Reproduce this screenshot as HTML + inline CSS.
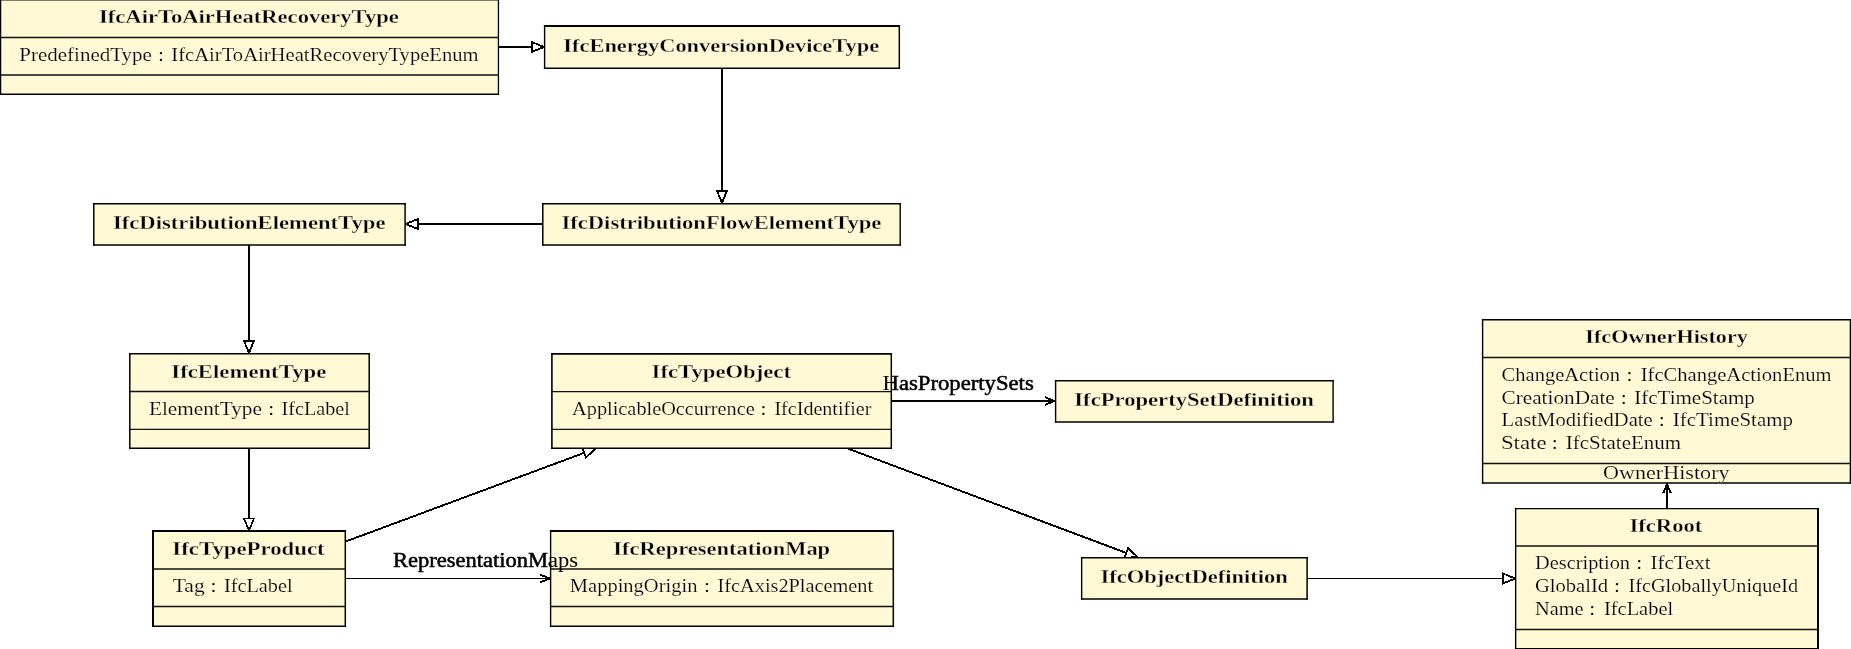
<!DOCTYPE html>
<html><head><meta charset="utf-8"><style>
html,body{margin:0;padding:0;background:#fff;width:1851px;height:649px;overflow:hidden}
svg{display:block;will-change:transform}
text{font-family:"Liberation Serif",serif;fill:#000;white-space:pre}
</style></head><body>
<svg width="1851" height="649" viewBox="0 0 1851 649">
<defs><clipPath id="boxclip">
<rect x="0.5" y="-0.25" width="497.95" height="94.55"/>
<rect x="544.6" y="26.0" width="354.70" height="42.30"/>
<rect x="542.8" y="203.7" width="357.40" height="41.30"/>
<rect x="93.8" y="203.7" width="311.30" height="41.30"/>
<rect x="129.8" y="353.7" width="239.40" height="94.60"/>
<rect x="551.9" y="353.9" width="339.40" height="94.40"/>
<rect x="1055.6" y="380.7" width="277.50" height="41.30"/>
<rect x="1482.6" y="319.8" width="367.80" height="163.10"/>
<rect x="153.0" y="531.0" width="192.30" height="95.30"/>
<rect x="550.6" y="531.0" width="342.70" height="95.30"/>
<rect x="1081.65" y="557.7" width="225.45" height="41.30"/>
<rect x="1515.65" y="508.6" width="302.35" height="140.10"/>
</clipPath></defs>
<g id="edges" shape-rendering="crispEdges">
<line x1="498.3" y1="47.0" x2="531.80" y2="47.00" stroke="#000" stroke-width="2.0"/>
<polygon points="544.00,47.00 531.80,52.00 531.80,42.00" fill="#fff" stroke="#000" stroke-width="1.8" stroke-linejoin="miter"/>
<line x1="722.0" y1="68.3" x2="722.00" y2="190.80" stroke="#000" stroke-width="2.0"/>
<polygon points="722.00,203.00 717.00,190.80 727.00,190.80" fill="#fff" stroke="#000" stroke-width="1.8" stroke-linejoin="miter"/>
<line x1="542.9" y1="224.0" x2="417.80" y2="224.00" stroke="#000" stroke-width="1.8"/>
<polygon points="405.60,224.00 417.80,219.00 417.80,229.00" fill="#fff" stroke="#000" stroke-width="1.8" stroke-linejoin="miter"/>
<line x1="249.0" y1="245.0" x2="249.00" y2="340.80" stroke="#000" stroke-width="2.0"/>
<polygon points="249.00,353.00 244.00,340.80 254.00,340.80" fill="#fff" stroke="#000" stroke-width="1.8" stroke-linejoin="miter"/>
<line x1="249.0" y1="448.3" x2="249.00" y2="518.40" stroke="#000" stroke-width="2.0"/>
<polygon points="249.00,530.60 244.00,518.40 254.00,518.40" fill="#fff" stroke="#000" stroke-width="1.8" stroke-linejoin="miter"/>
<line x1="345.2" y1="541.7" x2="584.16" y2="452.85" stroke="#000" stroke-width="1.9"/>
<polygon points="595.60,448.60 585.91,457.54 582.42,448.17" fill="#fff" stroke="#000" stroke-width="1.8" stroke-linejoin="miter"/>
<line x1="847.4" y1="448.4" x2="1126.28" y2="552.92" stroke="#000" stroke-width="1.9"/>
<polygon points="1137.70,557.20 1124.52,557.60 1128.03,548.24" fill="#fff" stroke="#000" stroke-width="1.8" stroke-linejoin="miter"/>
<line x1="1307.1" y1="578.5" x2="1503.00" y2="578.50" stroke="#000" stroke-width="1.2"/>
<polygon points="1515.20,578.50 1503.00,583.50 1503.00,573.50" fill="#fff" stroke="#000" stroke-width="1.8" stroke-linejoin="miter"/>
<line x1="891.3" y1="401.0" x2="1055.0" y2="401.0" stroke="#000" stroke-width="2.0"/>
<path d="M1045.20,404.80 C1046.80,404.23 1051.08,401.95 1055.00,401.00 M1045.20,397.20 C1046.80,397.77 1051.08,400.05 1055.00,401.00" fill="none" stroke="#000" stroke-width="1.9" stroke-linecap="butt"/>
<line x1="345.2" y1="578.5" x2="550.2" y2="578.5" stroke="#000" stroke-width="1.2"/>
<path d="M540.40,582.30 C542.00,581.73 546.28,579.45 550.20,578.50 M540.40,574.70 C542.00,575.27 546.28,577.55 550.20,578.50" fill="none" stroke="#000" stroke-width="1.9" stroke-linecap="butt"/>
<line x1="1667.0" y1="508.3" x2="1667.0" y2="483.4" stroke="#000" stroke-width="2.0"/>
<path d="M1670.80,493.20 C1670.23,491.60 1667.95,487.32 1667.00,483.40 M1663.20,493.20 C1663.77,491.60 1666.05,487.32 1667.00,483.40" fill="none" stroke="#000" stroke-width="1.9" stroke-linecap="butt"/>
</g>
<g id="labels-under">
<text x="882.61" y="390" font-size="20" font-weight="normal" textLength="151.11" lengthAdjust="spacingAndGlyphs" stroke="#000" stroke-width="0.5" stroke-linejoin="round">HasPropertySets</text>
<text x="393.00" y="567" font-size="20" font-weight="normal" textLength="185.08" lengthAdjust="spacingAndGlyphs" stroke="#000" stroke-width="0.5" stroke-linejoin="round">RepresentationMaps</text>
</g>
<g id="boxes">
<rect x="0.5" y="-0.25" width="497.95" height="94.55" fill="#fff9d5"/>
<path d="M0.5,-1.00V95.05" stroke="#000" stroke-width="1.5" fill="none"/>
<path d="M498.45,-1.00V95.05" stroke="#000" stroke-width="1.3" fill="none"/>
<path d="M-0.25,-0.25H499.10" stroke="#000" stroke-width="1.5" fill="none"/>
<path d="M-0.25,94.3H499.10" stroke="#000" stroke-width="1.5" fill="none"/>
<line x1="0.5" y1="37.5" x2="498.45" y2="37.5" stroke="#111" stroke-width="1.35"/>
<line x1="0.5" y1="75.0" x2="498.45" y2="75.0" stroke="#111" stroke-width="1.35"/>
<rect x="544.6" y="26.0" width="354.70" height="42.30" fill="#fff9d5"/>
<path d="M544.6,25.00V69.05" stroke="#000" stroke-width="1.4" fill="none"/>
<path d="M899.3,25.00V69.05" stroke="#000" stroke-width="1.5" fill="none"/>
<path d="M543.90,26.0H900.05" stroke="#000" stroke-width="2.0" fill="none"/>
<path d="M543.90,68.3H900.05" stroke="#000" stroke-width="1.5" fill="none"/>
<rect x="542.8" y="203.7" width="357.40" height="41.30" fill="#fff9d5"/>
<path d="M542.8,202.95V245.80" stroke="#000" stroke-width="1.5" fill="none"/>
<path d="M900.2,202.95V245.80" stroke="#000" stroke-width="1.4" fill="none"/>
<path d="M542.05,203.7H900.90" stroke="#000" stroke-width="1.5" fill="none"/>
<path d="M542.05,245.0H900.90" stroke="#000" stroke-width="1.6" fill="none"/>
<rect x="93.8" y="203.7" width="311.30" height="41.30" fill="#fff9d5"/>
<path d="M93.8,202.95V245.80" stroke="#000" stroke-width="1.5" fill="none"/>
<path d="M405.1,202.95V245.80" stroke="#000" stroke-width="1.5" fill="none"/>
<path d="M93.05,203.7H405.85" stroke="#000" stroke-width="1.5" fill="none"/>
<path d="M93.05,245.0H405.85" stroke="#000" stroke-width="1.6" fill="none"/>
<rect x="129.8" y="353.7" width="239.40" height="94.60" fill="#fff9d5"/>
<path d="M129.8,352.95V449.00" stroke="#000" stroke-width="1.5" fill="none"/>
<path d="M369.2,352.95V449.00" stroke="#000" stroke-width="1.5" fill="none"/>
<path d="M129.05,353.7H369.95" stroke="#000" stroke-width="1.5" fill="none"/>
<path d="M129.05,448.3H369.95" stroke="#000" stroke-width="1.4" fill="none"/>
<line x1="129.8" y1="391.5" x2="369.2" y2="391.5" stroke="#111" stroke-width="1.35"/>
<line x1="129.8" y1="429.3" x2="369.2" y2="429.3" stroke="#111" stroke-width="1.35"/>
<rect x="551.9" y="353.9" width="339.40" height="94.40" fill="#fff9d5"/>
<path d="M551.9,353.10V449.00" stroke="#000" stroke-width="1.6" fill="none"/>
<path d="M891.3,353.10V449.00" stroke="#000" stroke-width="1.5" fill="none"/>
<path d="M551.10,353.9H892.05" stroke="#000" stroke-width="1.6" fill="none"/>
<path d="M551.10,448.3H892.05" stroke="#000" stroke-width="1.4" fill="none"/>
<line x1="551.9" y1="391.6" x2="891.3" y2="391.6" stroke="#111" stroke-width="1.35"/>
<line x1="551.9" y1="429.3" x2="891.3" y2="429.3" stroke="#111" stroke-width="1.35"/>
<rect x="1055.6" y="380.7" width="277.50" height="41.30" fill="#fff9d5"/>
<path d="M1055.6,379.95V422.75" stroke="#000" stroke-width="1.4" fill="none"/>
<path d="M1333.1,379.95V422.75" stroke="#000" stroke-width="1.4" fill="none"/>
<path d="M1054.90,380.7H1333.80" stroke="#000" stroke-width="1.5" fill="none"/>
<path d="M1054.90,422.0H1333.80" stroke="#000" stroke-width="1.5" fill="none"/>
<rect x="1482.6" y="319.8" width="367.80" height="163.10" fill="#fff9d5"/>
<path d="M1482.6,319.10V483.65" stroke="#000" stroke-width="1.4" fill="none"/>
<path d="M1850.4,319.10V483.65" stroke="#000" stroke-width="1.4" fill="none"/>
<path d="M1481.90,319.8H1851.10" stroke="#000" stroke-width="1.4" fill="none"/>
<path d="M1481.90,482.9H1851.10" stroke="#000" stroke-width="1.5" fill="none"/>
<line x1="1482.6" y1="357.5" x2="1850.4" y2="357.5" stroke="#111" stroke-width="1.35"/>
<line x1="1482.6" y1="463.5" x2="1850.4" y2="463.5" stroke="#111" stroke-width="1.35"/>
<rect x="153.0" y="531.0" width="192.30" height="95.30" fill="#fff9d5"/>
<path d="M153.0,530.00V627.05" stroke="#000" stroke-width="2.0" fill="none"/>
<path d="M345.3,530.00V627.05" stroke="#000" stroke-width="1.5" fill="none"/>
<path d="M152.00,531.0H346.05" stroke="#000" stroke-width="2.0" fill="none"/>
<path d="M152.00,626.3H346.05" stroke="#000" stroke-width="1.5" fill="none"/>
<line x1="153.0" y1="569.0" x2="345.3" y2="569.0" stroke="#111" stroke-width="1.35"/>
<line x1="153.0" y1="606.5" x2="345.3" y2="606.5" stroke="#111" stroke-width="1.35"/>
<rect x="550.6" y="531.0" width="342.70" height="95.30" fill="#fff9d5"/>
<path d="M550.6,530.00V627.05" stroke="#000" stroke-width="1.4" fill="none"/>
<path d="M893.3,530.00V627.05" stroke="#000" stroke-width="1.5" fill="none"/>
<path d="M549.90,531.0H894.05" stroke="#000" stroke-width="2.0" fill="none"/>
<path d="M549.90,626.3H894.05" stroke="#000" stroke-width="1.5" fill="none"/>
<line x1="550.6" y1="569.0" x2="893.3" y2="569.0" stroke="#111" stroke-width="1.35"/>
<line x1="550.6" y1="606.5" x2="893.3" y2="606.5" stroke="#111" stroke-width="1.35"/>
<rect x="1081.65" y="557.7" width="225.45" height="41.30" fill="#fff9d5"/>
<path d="M1081.65,556.95V599.75" stroke="#000" stroke-width="1.4" fill="none"/>
<path d="M1307.1,556.95V599.75" stroke="#000" stroke-width="1.5" fill="none"/>
<path d="M1080.95,557.7H1307.85" stroke="#000" stroke-width="1.5" fill="none"/>
<path d="M1080.95,599.0H1307.85" stroke="#000" stroke-width="1.5" fill="none"/>
<rect x="1515.65" y="508.6" width="302.35" height="140.10" fill="#fff9d5"/>
<path d="M1515.65,507.90V649.45" stroke="#000" stroke-width="1.4" fill="none"/>
<path d="M1818.0,507.90V649.45" stroke="#000" stroke-width="2.0" fill="none"/>
<path d="M1514.95,508.6H1819.00" stroke="#000" stroke-width="1.4" fill="none"/>
<path d="M1514.95,648.7H1819.00" stroke="#000" stroke-width="1.5" fill="none"/>
<line x1="1515.65" y1="546.0" x2="1818.0" y2="546.0" stroke="#111" stroke-width="1.35"/>
<line x1="1515.65" y1="629.5" x2="1818.0" y2="629.5" stroke="#111" stroke-width="1.35"/>
</g>
<g id="texts">
<text x="99.02" y="23" font-size="19.5" font-weight="bold" textLength="299.83" lengthAdjust="spacingAndGlyphs" fill="#000" stroke="#fff9d5" stroke-width="0.3">IfcAirToAirHeatRecoveryType</text>
<text x="19.38" y="61" font-size="19.5" font-weight="normal" textLength="132.46" lengthAdjust="spacingAndGlyphs" fill="#000" stroke="#fff9d5" stroke-width="0.18">PredefinedType</text>
<text x="158.26" y="61" font-size="19.5" font-weight="normal" fill="#222">:</text>
<text x="171.36" y="61" font-size="19.5" font-weight="normal" textLength="307.22" lengthAdjust="spacingAndGlyphs" fill="#000" stroke="#fff9d5" stroke-width="0.18">IfcAirToAirHeatRecoveryTypeEnum</text>
<text x="563.32" y="52" font-size="19.5" font-weight="bold" textLength="315.90" lengthAdjust="spacingAndGlyphs" fill="#000" stroke="#fff9d5" stroke-width="0.3">IfcEnergyConversionDeviceType</text>
<text x="561.41" y="229" font-size="19.5" font-weight="bold" textLength="319.98" lengthAdjust="spacingAndGlyphs" fill="#000" stroke="#fff9d5" stroke-width="0.3">IfcDistributionFlowElementType</text>
<text x="112.96" y="229" font-size="19.5" font-weight="bold" textLength="272.50" lengthAdjust="spacingAndGlyphs" fill="#000" stroke="#fff9d5" stroke-width="0.3">IfcDistributionElementType</text>
<text x="171.37" y="378" font-size="19.5" font-weight="bold" textLength="154.92" lengthAdjust="spacingAndGlyphs" fill="#000" stroke="#fff9d5" stroke-width="0.3">IfcElementType</text>
<text x="149.03" y="415" font-size="19.5" font-weight="normal" textLength="112.79" lengthAdjust="spacingAndGlyphs" fill="#000" stroke="#fff9d5" stroke-width="0.18">ElementType</text>
<text x="268.45" y="415" font-size="19.5" font-weight="normal" fill="#222">:</text>
<text x="281.56" y="415" font-size="19.5" font-weight="normal" textLength="68.38" lengthAdjust="spacingAndGlyphs" fill="#000" stroke="#fff9d5" stroke-width="0.18">IfcLabel</text>
<text x="651.62" y="378" font-size="19.5" font-weight="bold" textLength="139.34" lengthAdjust="spacingAndGlyphs" fill="#000" stroke="#fff9d5" stroke-width="0.3">IfcTypeObject</text>
<text x="572.12" y="415" font-size="19.5" font-weight="normal" textLength="182.62" lengthAdjust="spacingAndGlyphs" fill="#000" stroke="#fff9d5" stroke-width="0.18">ApplicableOccurrence</text>
<text x="760.84" y="415" font-size="19.5" font-weight="normal" fill="#222">:</text>
<text x="774.45" y="415" font-size="19.5" font-weight="normal" textLength="96.92" lengthAdjust="spacingAndGlyphs" fill="#000" stroke="#fff9d5" stroke-width="0.18">IfcIdentifier</text>
<text x="1074.30" y="406" font-size="19.5" font-weight="bold" textLength="239.66" lengthAdjust="spacingAndGlyphs" fill="#000" stroke="#fff9d5" stroke-width="0.3">IfcPropertySetDefinition</text>
<text x="1585.38" y="343" font-size="19.5" font-weight="bold" textLength="162.43" lengthAdjust="spacingAndGlyphs" fill="#000" stroke="#fff9d5" stroke-width="0.3">IfcOwnerHistory</text>
<text x="1501.64" y="381" font-size="19.5" font-weight="normal" textLength="118.49" lengthAdjust="spacingAndGlyphs" fill="#000" stroke="#fff9d5" stroke-width="0.18">ChangeAction</text>
<text x="1626.75" y="381" font-size="19.5" font-weight="normal" fill="#222">:</text>
<text x="1640.68" y="381" font-size="19.5" font-weight="normal" textLength="190.88" lengthAdjust="spacingAndGlyphs" fill="#000" stroke="#fff9d5" stroke-width="0.18">IfcChangeActionEnum</text>
<text x="1501.51" y="404" font-size="19.5" font-weight="normal" textLength="113.31" lengthAdjust="spacingAndGlyphs" fill="#000" stroke="#fff9d5" stroke-width="0.18">CreationDate</text>
<text x="1621.12" y="404" font-size="19.5" font-weight="normal" fill="#222">:</text>
<text x="1634.28" y="404" font-size="19.5" font-weight="normal" textLength="120.62" lengthAdjust="spacingAndGlyphs" fill="#000" stroke="#fff9d5" stroke-width="0.18">IfcTimeStamp</text>
<text x="1501.60" y="426" font-size="19.5" font-weight="normal" textLength="151.09" lengthAdjust="spacingAndGlyphs" fill="#000" stroke="#fff9d5" stroke-width="0.18">LastModifiedDate</text>
<text x="1659.12" y="426" font-size="19.5" font-weight="normal" fill="#222">:</text>
<text x="1672.87" y="426" font-size="19.5" font-weight="normal" textLength="120.05" lengthAdjust="spacingAndGlyphs" fill="#000" stroke="#fff9d5" stroke-width="0.18">IfcTimeStamp</text>
<text x="1500.95" y="449" font-size="19.5" font-weight="normal" textLength="45.58" lengthAdjust="spacingAndGlyphs" fill="#000" stroke="#fff9d5" stroke-width="0.18">State</text>
<text x="1552.12" y="449" font-size="19.5" font-weight="normal" fill="#222">:</text>
<text x="1565.86" y="449" font-size="19.5" font-weight="normal" textLength="115.06" lengthAdjust="spacingAndGlyphs" fill="#000" stroke="#fff9d5" stroke-width="0.18">IfcStateEnum</text>
<text x="1603.05" y="479" font-size="19.5" font-weight="normal" textLength="126.52" lengthAdjust="spacingAndGlyphs" fill="#000" stroke="#fff9d5" stroke-width="0.18">OwnerHistory</text>
<text x="172.37" y="555" font-size="19.5" font-weight="bold" textLength="152.31" lengthAdjust="spacingAndGlyphs" fill="#000" stroke="#fff9d5" stroke-width="0.3">IfcTypeProduct</text>
<text x="172.69" y="592" font-size="19.5" font-weight="normal" textLength="32.06" lengthAdjust="spacingAndGlyphs" fill="#000" stroke="#fff9d5" stroke-width="0.18">Tag</text>
<text x="210.75" y="592" font-size="19.5" font-weight="normal" fill="#222">:</text>
<text x="223.98" y="592" font-size="19.5" font-weight="normal" textLength="68.68" lengthAdjust="spacingAndGlyphs" fill="#000" stroke="#fff9d5" stroke-width="0.18">IfcLabel</text>
<text x="613.30" y="555" font-size="19.5" font-weight="bold" textLength="216.83" lengthAdjust="spacingAndGlyphs" fill="#000" stroke="#fff9d5" stroke-width="0.3">IfcRepresentationMap</text>
<text x="569.85" y="592" font-size="19.5" font-weight="normal" textLength="127.54" lengthAdjust="spacingAndGlyphs" fill="#000" stroke="#fff9d5" stroke-width="0.18">MappingOrigin</text>
<text x="704.30" y="592" font-size="19.5" font-weight="normal" fill="#222">:</text>
<text x="717.60" y="592" font-size="19.5" font-weight="normal" textLength="155.47" lengthAdjust="spacingAndGlyphs" fill="#000" stroke="#fff9d5" stroke-width="0.18">IfcAxis2Placement</text>
<text x="1100.63" y="583" font-size="19.5" font-weight="bold" textLength="187.05" lengthAdjust="spacingAndGlyphs" fill="#000" stroke="#fff9d5" stroke-width="0.3">IfcObjectDefinition</text>
<text x="1629.41" y="532" font-size="19.5" font-weight="bold" textLength="72.90" lengthAdjust="spacingAndGlyphs" fill="#000" stroke="#fff9d5" stroke-width="0.3">IfcRoot</text>
<text x="1535.11" y="569" font-size="19.5" font-weight="normal" textLength="94.88" lengthAdjust="spacingAndGlyphs" fill="#000" stroke="#fff9d5" stroke-width="0.18">Description</text>
<text x="1636.52" y="569" font-size="19.5" font-weight="normal" fill="#222">:</text>
<text x="1650.64" y="569" font-size="19.5" font-weight="normal" textLength="59.95" lengthAdjust="spacingAndGlyphs" fill="#000" stroke="#fff9d5" stroke-width="0.18">IfcText</text>
<text x="1534.90" y="592" font-size="19.5" font-weight="normal" textLength="73.30" lengthAdjust="spacingAndGlyphs" fill="#000" stroke="#fff9d5" stroke-width="0.18">GlobalId</text>
<text x="1614.30" y="592" font-size="19.5" font-weight="normal" fill="#222">:</text>
<text x="1628.56" y="592" font-size="19.5" font-weight="normal" textLength="169.62" lengthAdjust="spacingAndGlyphs" fill="#000" stroke="#fff9d5" stroke-width="0.18">IfcGloballyUniqueId</text>
<text x="1535.12" y="615" font-size="19.5" font-weight="normal" textLength="48.54" lengthAdjust="spacingAndGlyphs" fill="#000" stroke="#fff9d5" stroke-width="0.18">Name</text>
<text x="1589.52" y="615" font-size="19.5" font-weight="normal" fill="#222">:</text>
<text x="1603.97" y="615" font-size="19.5" font-weight="normal" textLength="69.18" lengthAdjust="spacingAndGlyphs" fill="#000" stroke="#fff9d5" stroke-width="0.18">IfcLabel</text>
</g>
<g id="labels-over" clip-path="url(#boxclip)">
<text x="882.61" y="390" font-size="20" font-weight="normal" textLength="151.11" lengthAdjust="spacingAndGlyphs" fill="#222">HasPropertySets</text>
<text x="393.00" y="567" font-size="20" font-weight="normal" textLength="185.08" lengthAdjust="spacingAndGlyphs" fill="#222">RepresentationMaps</text>
</g>
</svg>
</body></html>
